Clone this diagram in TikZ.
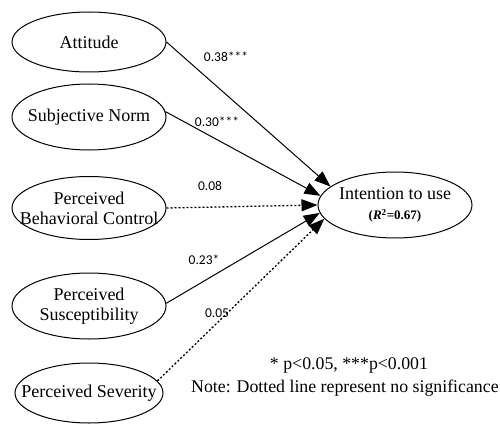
\documentclass[tikz,border=0pt]{standalone}
\usepackage{fontspec}
\setmainfont{Liberation Serif}
\newfontfamily\labfont{Carlito}
\usetikzlibrary{arrows.meta,shapes.geometric}
\begin{document}
\begin{tikzpicture}[x=1pt,y=-1pt,
  latent/.style={draw,ellipse,line width=1pt,minimum width=154pt,minimum height=64pt,inner sep=0pt},
  lbl/.style={inner sep=0pt,align=center,font=\fontsize{18}{20}\selectfont},
  pathsig/.style={line width=1pt,-{Triangle[length=16pt,width=12pt]}},
  pathns/.style={pathsig,dash pattern=on 2pt off 2pt,line width=1.3pt},
  coef/.style={font=\labfont\fontsize{13.5}{15}\selectfont,inner sep=0pt},
  notetext/.style={font=\fontsize{17.8}{20}\selectfont,inner sep=0pt}]
\useasboundingbox (0,0) rectangle (500,425);
\node[latent,minimum height=60pt,label={[lbl]center:Attitude}] (att) at (89,42) {};
\node[latent,minimum height=66pt,label={[lbl]center:Subjective Norm}] (sn) at (89,117) {};
\node[latent,minimum height=63pt,label={[lbl]center:Perceived\\Behavioral Control}] (pbc) at (89,208) {};
\node[latent,minimum height=66pt,label={[lbl]center:Perceived\\Susceptibility}] (sus) at (89,306) {};
\node[latent,minimum width=148pt,minimum height=60pt,label={[lbl]center:Perceived Severity}] (sev) at (89,393) {};
\node[latent,minimum height=66pt,label={[lbl]center:Intention to use\\[0pt]{\fontsize{13}{14}\selectfont\bfseries(\textit{R}\textsuperscript{2}=0.67)}}] (int) at (395,205) {};
\draw[pathsig] (att.east) -- (int.164);
\draw[pathsig] (sn.4) -- (int.173);
\draw[pathns] (pbc.east) -- (int.180);
\draw[pathsig] (sus.2) -- (int.186);
\draw[pathns] (sev.10) -- (int.191);
\node[coef] (c1) at (226,57) {0.38***};
\node[coef] (c2) at (217,122) {0.30***};
\node[coef] (c3) at (210,186) {0.08};
\node[coef] (c4) at (204,260) {0.23*};
\node[coef] (c5) at (217,313) {0.05};
\node[notetext] (n1) at (349,365) {* p<0.05, ***p<0.001};
\node[notetext,anchor=west] (n2) at (191,388) {Note: Dotted line represent no significance};
\end{tikzpicture}
\end{document}
